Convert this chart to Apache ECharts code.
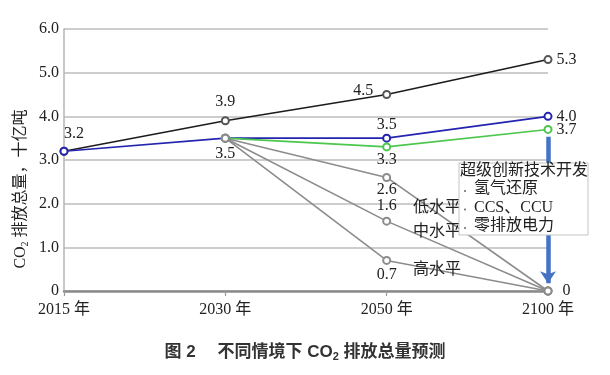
<!DOCTYPE html>
<html>
<head>
<meta charset="utf-8">
<script src="https://cdn.jsdelivr.net/npm/echarts@6/dist/echarts.min.js"></script>
<style>html,body{margin:0;padding:0;background:#fff}#c{width:610px;height:375px}</style>
</head>
<body>
<div id="c"></div>
<script>
// ---- data ----
var years = ['2015 年', '2030 年', '2050 年', '2100 年'];
var baseline = [3.2, 3.9, 4.5, 5.3];          // black
var scenarioBlue = [3.2, 3.5, 3.5, 4.0];      // blue
var scenarioGreen = [null, 3.5, 3.3, 3.7];    // green
var lowLevel = [null, 3.5, 2.6, 0];           // 低水平
var midLevel = [null, 3.5, 1.6, 0];           // 中水平
var highLevel = [null, 3.5, 0.7, 0];          // 高水平
var yTicks = [0, 1, 2, 3, 4, 5, 6];
var levelNames = ['低水平', '中水平', '高水平'];
var boxTitle = '超级创新技术开发';
var boxItems = ['氢气还原', 'CCS、CCU', '零排放电力'];
var arrowRange = [3.53, 0.18];

var SERIF = '"Liberation Serif","Noto Sans CJK SC",serif';
var SANS = '"Liberation Sans","Noto Sans CJK SC",sans-serif';

function fmtVal(v) { return v === 0 ? '0' : v.toFixed(1); }

// label placement per series: index -> {position, offset, distance}
function buildData(values, labelSpec) {
  return values.map(function (v, i) {
    if (v === null) return null;
    var item = { value: v };
    var spec = labelSpec[i];
    if (spec) {
      item.label = Object.assign({
        show: true,
        fontFamily: SERIF, fontSize: 16, color: '#222',
        formatter: function (p) { return fmtVal(p.value); }
      }, spec);
    }
    return item;
  });
}

function lineSeries(name, values, color, markerColor, labelSpec, extraOpts) {
  return Object.assign({
    name: name,
    type: 'line',
    data: buildData(values, labelSpec),
    symbol: 'emptyCircle',
    symbolSize: 7,
    showSymbol: true,
    connectNulls: false,
    lineStyle: { color: color, width: 1.6 },
    itemStyle: { color: markerColor, borderColor: markerColor, borderWidth: 1.3 },
    label: { show: false },
    emphasis: { disabled: true },
    animation: false
  }, extraOpts || {});
}

var chart = echarts.init(document.getElementById('c'), null, { renderer: 'canvas' });

var option = {
  animation: false,
  grid: { left: 64, right: 62, top: 29, bottom: 84, containLabel: false },
  xAxis: {
    type: 'category',
    data: years,
    boundaryGap: false,
    axisLine: { show: true, lineStyle: { color: '#8a8a8a', width: 2.5 } },
    axisTick: { show: true, length: 5, lineStyle: { color: '#9a9a9a', width: 1.2 } },
    axisLabel: { fontFamily: SERIF, fontSize: 16, color: '#222', margin: 11 },
    splitLine: { show: false }
  },
  yAxis: {
    type: 'value',
    min: yTicks[0], max: yTicks[yTicks.length - 1], interval: 1,
    axisLine: { show: true, lineStyle: { color: '#b5b5b5', width: 1.5 } },
    axisTick: { show: false },
    axisLabel: {
      fontFamily: SERIF, fontSize: 16, color: '#222', margin: 5,
      formatter: function (v) { return fmtVal(v); }
    },
    splitLine: { show: true, lineStyle: { color: '#bdbdbd', width: 1.6 } }
  },
  series: [
    lineSeries('baseline', baseline, '#1c1c1c', '#555555', {
      1: { position: 'top', distance: 6 },
      2: { position: 'left', distance: 9, offset: [0, -4] },
      3: { position: 'right', distance: 4 }
    }),
    lineSeries('blue', scenarioBlue, '#2424b0', '#2424b0', {
      0: { position: 'top', distance: 5, offset: [10, 0] },
      2: { position: 'top', distance: 1 },
      3: { position: 'right', distance: 4 }
    }),
    lineSeries('green', scenarioGreen, '#4cc64c', '#4cc64c', {
      2: { position: 'bottom', distance: 0 },
      3: { position: 'right', distance: 4 }
    }),
    lineSeries('low', lowLevel, '#8c8c8c', '#8c8c8c', {
      1: { position: 'bottom', distance: 3 },
      2: { position: 'bottom', distance: 0 },
      3: { position: 'right', distance: 10 }
    }),
    lineSeries('mid', midLevel, '#8c8c8c', '#8c8c8c', {
      2: { position: 'top', distance: 3 }
    }),
    lineSeries('high', highLevel, '#8c8c8c', '#8c8c8c', {
      2: { position: 'bottom', distance: 2 }
    }, {
      markLine: {
        silent: true,
        symbol: ['none', 'arrow'],
        symbolSize: [12, 12],
        label: { show: false },
        lineStyle: { color: '#4472c4', width: 4.5, type: 'solid' },
        emphasis: { disabled: true },
        data: [[{ coord: [3, arrowRange[0]] }, { coord: [3, arrowRange[1]] }]]
      }
    })
  ],
  graphic: []
};

// level annotations
var levelPos = [[413, 208], [413, 232], [413, 270]];
levelNames.forEach(function (t, i) {
  option.graphic.push({
    type: 'text', x: levelPos[i][0], y: levelPos[i][1], z: 50,
    style: { text: t, font: '16px ' + SERIF, fill: '#222', align: 'left', verticalAlign: 'middle',
             textAlign: 'left', textVerticalAlign: 'middle' }
  });
});

// box
var BX = 459, BY = 163;
option.graphic.push({
  type: 'rect', x: BX, y: BY, z: 200, shape: { x: 0, y: 0, width: 129, height: 72 },
  style: { fill: '#ffffff', stroke: '#c4c4c4', lineWidth: 1 }
});
option.graphic.push({
  type: 'text', x: BX + 65, y: BY + 8, z: 201,
  style: { text: boxTitle, font: '16px ' + SERIF, fill: '#222', align: 'center', verticalAlign: 'middle',
           textAlign: 'center', textVerticalAlign: 'middle' }
});
boxItems.forEach(function (t, i) {
  option.graphic.push({ type: 'circle', z: 201, shape: { cx: BX + 6, cy: BY + 28 + i * 18.5, r: 1 }, style: { fill: '#666' } });
  option.graphic.push({ type: 'text', x: BX + 15, y: BY + 26 + i * 18.5, z: 201,
    style: { text: t, font: '16px ' + SERIF, fill: '#222', align: 'left', verticalAlign: 'middle',
             textAlign: 'left', textVerticalAlign: 'middle' } });
});

// y axis name
option.graphic.push({
  type: 'text', x: 21, y: 189, rotation: Math.PI / 2, z: 50,
  style: {
    text: '{a|CO}{s|2}{a| 排放总量，十亿吨}',
    align: 'center', verticalAlign: 'middle', textAlign: 'center', textVerticalAlign: 'middle',
    rich: {
      a: { fontFamily: SERIF, fontSize: 16, fill: '#222', color: '#222', lineHeight: 18, verticalAlign: 'middle' },
      s: { fontFamily: SERIF, fontSize: 10, fill: '#222', color: '#222', lineHeight: 18, verticalAlign: 'bottom' }
    }
  }
});

// caption
option.graphic.push({
  type: 'text', x: 305, y: 352, z: 50,
  style: {
    text: '{a|图 2\u3000 不同情境下 CO}{s|2}{a| 排放总量预测}',
    align: 'center', verticalAlign: 'middle', textAlign: 'center', textVerticalAlign: 'middle',
    rich: {
      a: { fontFamily: SANS, fontSize: 17, fontWeight: 'bold', fill: '#333', color: '#333', lineHeight: 20, verticalAlign: 'middle' },
      s: { fontFamily: SANS, fontSize: 11, fontWeight: 'bold', fill: '#333', color: '#333', lineHeight: 20, verticalAlign: 'bottom' }
    }
  }
});

chart.setOption(option);
</script>
</body>
</html>
